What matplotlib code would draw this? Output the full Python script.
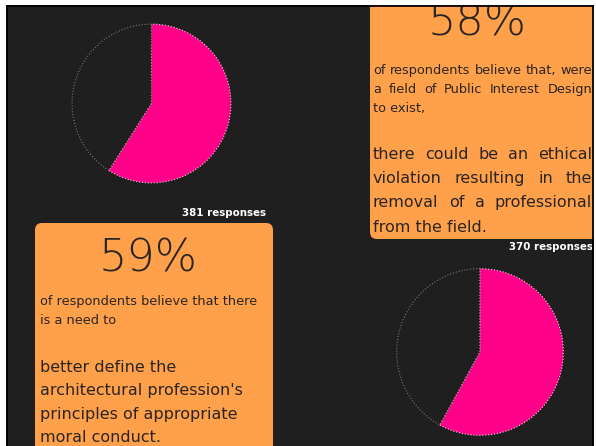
import matplotlib
matplotlib.use("Agg")
import matplotlib.pyplot as plt
from matplotlib.patches import Rectangle, FancyBboxPatch

# ---- data ----
pct_agree = [59, 58]
responses = [381, 370]
big_labels = ["59%", "58%"]
intro_1 = ["of respondents believe that there", "is a need to"]
claim_1 = ["better define the", "architectural profession's",
           "principles of appropriate", "moral conduct."]
intro_2 = ["of respondents believe that, were",
           "a field of Public Interest Design", "to exist,"]
claim_2 = ["there could be an ethical", "violation resulting in the",
           "removal of a professional", "from the field."]

W, H = 596, 446
BG = "#1f1f1f"
ORANGE = "#ffa04b"
MAGENTA = "#ff0088"
INK = "#2a2520"
FONT = "DejaVu Sans"

fig = plt.figure(figsize=(W / 100, H / 100), dpi=100, facecolor="white")
ax = fig.add_axes([0, 0, 1, 1])
ax.set_xlim(0, W)
ax.set_ylim(H, 0)
ax.axis("off")

# dark panel
ax.add_patch(Rectangle((6, 5), 588, 460, facecolor=BG, edgecolor="none", zorder=0))

# orange boxes
ax.add_patch(FancyBboxPatch((35, 223), 238, 260, boxstyle="round,pad=0,rounding_size=7",
                            facecolor=ORANGE, edgecolor="none", zorder=1))
ax.add_patch(FancyBboxPatch((370, -30), 240, 269, boxstyle="round,pad=0,rounding_size=7",
                            facecolor=ORANGE, edgecolor="none", zorder=1))

renderer = fig.canvas.get_renderer()


def text_lines(lines, x0, y0, dy, size, x1=None, justify=False, weight="normal"):
    for i, line in enumerate(lines):
        y = y0 + i * dy
        words = line.split()
        last = i == len(lines) - 1
        if not justify or last or len(words) < 2:
            ax.text(x0, y, line, fontsize=size, color=INK, family=FONT,
                    weight=weight, va="baseline", ha="left", zorder=3)
            continue
        objs = [ax.text(x0, y, w, fontsize=size, color=INK, family=FONT,
                        weight=weight, va="baseline", ha="left", zorder=3)
                for w in words]
        widths = [o.get_window_extent(renderer).width for o in objs]
        gap = (x1 - x0 - sum(widths)) / (len(words) - 1)
        x = x0
        for o, w in zip(objs, widths):
            o.set_x(x)
            x += w + gap


# box 1 (bottom-left)
ax.text(148, 272, big_labels[0], fontsize=32, color=INK, family=FONT,
        weight="light", ha="center", va="baseline", zorder=3)
text_lines(intro_1, 40, 305, 18.5, 9.3)
text_lines(claim_1, 40, 372, 23.3, 11.5)
ax.text(266, 213, f"{responses[0]} responses", fontsize=7.4, color="white",
        family=FONT, weight="bold", ha="right", va="center", zorder=3)

# box 2 (top-right)
ax.text(477, 35, big_labels[1], fontsize=32, color=INK, family=FONT,
        weight="light", ha="center", va="baseline", zorder=3)
text_lines(intro_2, 373, 74, 19, 9.3, x1=592, justify=True)
text_lines(claim_2, 373, 159, 24.2, 11.5, x1=592, justify=True)
ax.text(593, 247, f"{responses[1]} responses", fontsize=7.4, color="white",
        family=FONT, weight="bold", ha="right", va="center", zorder=3)

# frame on top
ax.add_patch(Rectangle((0, 0), W, 5, facecolor="white", edgecolor="none", zorder=8))
ax.add_patch(Rectangle((0, 0), 6, H, facecolor="white", edgecolor="none", zorder=8))
ax.add_patch(Rectangle((594, 0), 2, H, facecolor="white", edgecolor="none", zorder=8))
ax.plot([6.5, 593.5], [5.8, 5.8], color="black", lw=1.3, zorder=9, solid_capstyle="butt")
ax.plot([6.8, 6.8], [5, H], color="black", lw=1.3, zorder=9, solid_capstyle="butt")
ax.plot([593.3, 593.3], [5, H], color="black", lw=1.3, zorder=9, solid_capstyle="butt")


def pie_at(cx, cy, r, pct):
    pax = fig.add_axes([(cx - r) / W, 1 - (cy + r) / H, 2 * r / W, 2 * r / H])
    wedges, _ = pax.pie([pct, 100 - pct], startangle=90, counterclock=False,
                        colors=[MAGENTA, "none"],
                        wedgeprops=dict(linewidth=0.8, linestyle=":"))
    wedges[0].set_edgecolor("#f0d0e0")
    wedges[1].set_edgecolor("#777777")
    pax.set_xlim(-1.02, 1.02)
    pax.set_ylim(-1.02, 1.02)
    pax.axis("off")
    pax.patch.set_alpha(0)


pie_at(151.5, 103.5, 81, pct_agree[0])
pie_at(480, 352, 85, pct_agree[1])

fig.savefig("out.png", dpi=100, facecolor="white")
